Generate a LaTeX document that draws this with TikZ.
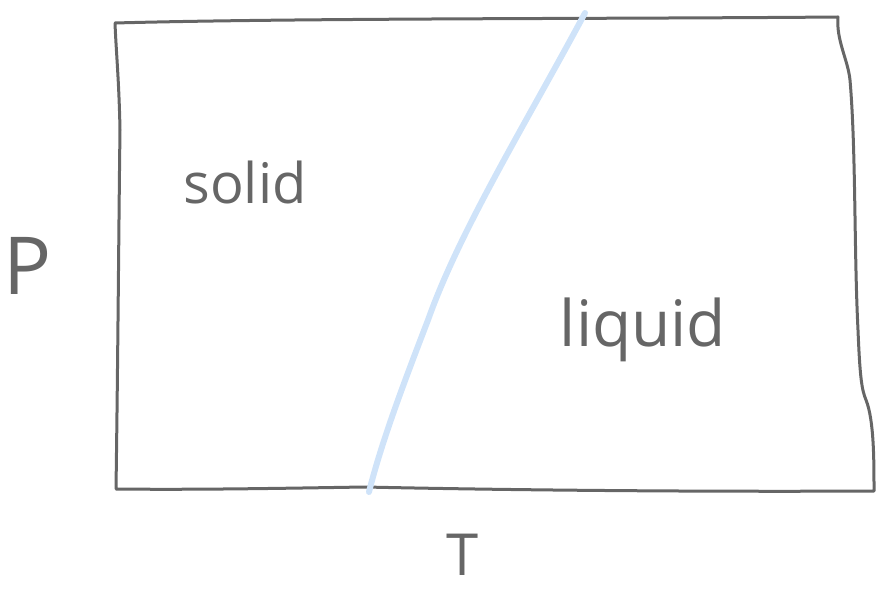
\documentclass[tikz,border=0pt]{standalone}
\usepackage{fontspec}
\setmainfont{Open Sans}
\definecolor{ink}{HTML}{666666}
\definecolor{phase}{HTML}{CFE3F9}
\begin{document}
\begin{tikzpicture}[x=1pt,y=-1pt,
  frame/.style={draw=ink,line width=3pt,line cap=round,line join=round},
  boundary/.style={draw=phase,line width=6pt,line cap=round},
  lbl/.style={text=ink,inner sep=0pt}]
\useasboundingbox (0,0) rectangle (876,596);
% corners
\coordinate (tl) at (115,23);
\coordinate (tr) at (838,17);
\coordinate (br) at (874,491);
\coordinate (bl) at (116,489);
% frame, hand drawn
\draw[frame] (tl) .. controls (300,18) and (600,19) .. (tr)
  .. controls (836,40) and (848,60) .. (850,80)
  .. controls (856,150) and (854,250) .. (858,330)
  .. controls (860,380) and (862,390) .. (866,400)
  .. controls (874,420) and (874,460) .. (br)
  .. controls (700,492) and (500,490) .. (365,487)
  .. controls (300,488) and (200,490) .. (bl)
  .. controls (118,350) and (119,200) .. (120,130)
  .. controls (119,80) and (116,50) .. (tl);
% phase boundary
\coordinate (btop) at (585,13);
\coordinate (bbot) at (369,492);
\draw[boundary] (btop) .. controls (525,125) and (460,230) .. (428,320)
  .. controls (405,380) and (382,440) .. (bbot);
% labels
\node[lbl,font=\fontsize{56}{62}\selectfont] (solid) at (245,183) {solid};
\node[lbl,font=\fontsize{64}{70}\selectfont] (liquid) at (643,330) {liquid};
\node[lbl,font=\fontsize{80}{90}\selectfont] (P) at (28,266) {P};
\node[lbl,font=\fontsize{58}{64}\selectfont] (T) at (463,555) {T};
\end{tikzpicture}
\end{document}
